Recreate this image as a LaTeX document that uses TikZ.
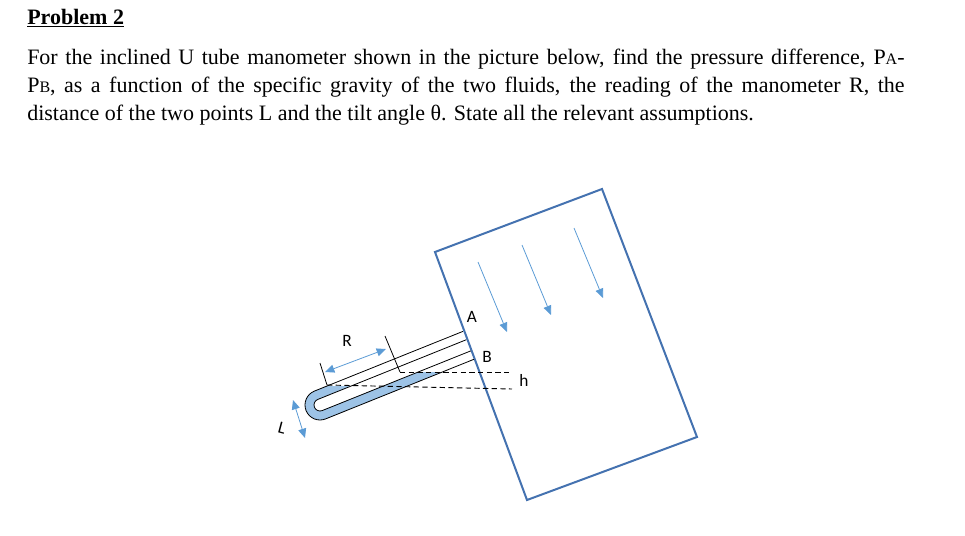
\documentclass[tikz,border=0pt]{standalone}
\usepackage{fontspec}
\setmainfont{Liberation Serif}
\newfontfamily\labelfont{Carlito}
\usetikzlibrary{arrows.meta,calc}
\definecolor{tankblue}{RGB}{68,114,176}
\definecolor{flowblue}{RGB}{91,155,213}
\definecolor{fluidblue}{RGB}{157,195,230}
\tikzset{
  wall/.style={tankblue,line width=1.5pt},
  flow/.style={flowblue,line width=0.6pt,-{Triangle[length=7pt,width=6pt]}},
  dim/.style={flowblue,line width=0.6pt,{Triangle[length=7pt,width=6pt]}-{Triangle[length=7pt,width=6pt]}},
  tube/.style={black,line width=0.6pt},
  level/.style={black,line width=0.7pt,dash pattern=on 4pt off 2.5pt},
  lbl/.style={font=\labelfont\fontsize{13}{14}\selectfont,inner sep=0pt},
}
\begin{document}
\begin{tikzpicture}[x=0.75pt,y=-0.75pt]
\useasboundingbox (0,0) rectangle (965,536);
% text
\node[anchor=west,inner sep=0pt] (title) at (27,18)
  {\fontsize{16.5}{18}\selectfont\bfseries\underline{Problem 2}};
\node[anchor=north west,inner sep=0pt,text width=658pt,align=justify] (task) at (27,49)
  {\fontsize{16.5}{21}\selectfont For the inclined U tube manometer shown in the picture below, find the pressure difference, P{\fontsize{12}{14}\selectfont A}-\linebreak
  P{\fontsize{12}{14}\selectfont B}, as a function of the specific gravity of the two fluids, the reading of the manometer R, the\linebreak
  distance of the two points L and the tilt angle θ. State all the relevant assumptions.\par};
% tank
\coordinate (t1) at (435,252);
\coordinate (t2) at (602,189);
\coordinate (t3) at (697,437);
\coordinate (t4) at (527,500);
\draw[wall] (t1) -- (t2) -- (t3) -- (t4) -- cycle;
% flow arrows
\foreach \sx/\sy in {478/262,522/245,574/228}
  \draw[flow] (\sx,\sy) -- ++(29,70);
% U tube (u along tube, n across it)
\coordinate (C) at (320,405);
\def\nx{0.373}\def\ny{0.928}
\coordinate (u) at (0.928*160,-0.373*160);
% fluid
\begin{scope}
  \clip (0,386) rectangle (965,536);
  \fill[fluidblue] ($(C)+(-15*\nx,-15*\ny)$) -- ++(u) -- ($(C)+(-6*\nx,-6*\ny)+(u)$)
    -- ($(C)+(-6*\nx,-6*\ny)$) arc[start angle=-111.9,end angle=-291.9,radius=6]
    -- ++(u) -- ($(C)+(15*\nx,15*\ny)+(u)$) -- ($(C)+(15*\nx,15*\ny)$)
    arc[start angle=68.1,end angle=248.1,radius=15] -- cycle;
\end{scope}
\begin{scope}
  \clip (0,372) rectangle (965,536);
  \fill[fluidblue] ($(C)+(6*\nx,6*\ny)$) -- ++(u) -- ($(C)+(15*\nx,15*\ny)+(u)$) -- ($(C)+(15*\nx,15*\ny)$) -- cycle;
\end{scope}
% walls
\draw[tube] ($(C)+(-15*\nx,-15*\ny)+(u)$) -- ($(C)+(-15*\nx,-15*\ny)$)
  arc[start angle=248.1,end angle=68.1,radius=15] -- ++(u);
\draw[tube] ($(C)+(-6*\nx,-6*\ny)+(u)$) -- ($(C)+(-6*\nx,-6*\ny)$)
  arc[start angle=248.1,end angle=68.1,radius=6] -- ++(u);
% levels
\draw[level] (400,372) -- (512,372);
\draw[level] (327,385) -- (512,389);
% R dimension
\coordinate (ra) at (320,363);
\coordinate (rb) at (385,336);
\draw[tube] (ra) -- (327,385);
\draw[tube] (rb) -- (400,372);
\draw[dim] (325,372) -- (386,349);
\draw[dim] (293,400) -- (305,438);
% labels
\node[lbl] (labA) at (472,317) {A};
\node[lbl] (labB) at (487,357) {B};
\node[lbl] (labR) at (347,341) {R};
\node[lbl] (labh) at (524,380) {h};
\node[lbl,rotate=-15] (labL) at (282,428) {L};
\end{tikzpicture}
\end{document}
